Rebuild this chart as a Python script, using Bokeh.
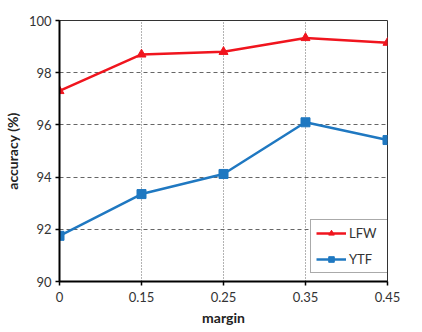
from bokeh.plotting import figure
from bokeh.models import Range1d, FixedTicker, Legend, LegendItem
from bokeh.embed import file_html
from bokeh.resources import INLINE

margins = ["0", "0.15", "0.25", "0.35", "0.45"]
lfw = [97.3, 98.7, 98.8, 99.33, 99.15]
ytf = [91.75, 93.35, 94.12, 96.1, 95.42]
y_ticks = [90, 92, 94, 96, 98, 100]

xs = list(range(len(margins)))
FONT = "Lato"

p = figure(width=420, height=330, output_backend="svg", toolbar_location=None,
           x_range=Range1d(0, len(margins) - 1), y_range=Range1d(90, 100),
           min_border_left=58, min_border_right=33, min_border_top=20, min_border_bottom=49)

p.outline_line_color = "#333333"
p.outline_line_width = 1

p.xaxis.ticker = FixedTicker(ticks=xs)
p.xaxis.major_label_overrides = {i: m for i, m in enumerate(margins)}
p.yaxis.ticker = FixedTicker(ticks=y_ticks)

for ax in (p.xaxis[0], p.yaxis[0]):
    ax.axis_line_color = "black"
    ax.axis_line_width = 2
    ax.major_tick_line_color = "black"
    ax.major_tick_line_width = 1.5
    ax.major_tick_out = 4
    ax.major_tick_in = 0
    ax.minor_tick_line_color = None
    ax.major_label_text_font = FONT
    ax.major_label_text_font_size = "13px"
    ax.major_label_text_color = "#333333"
    ax.axis_label_text_font = FONT
    ax.axis_label_text_font_size = "14px"
    ax.axis_label_text_font_style = "bold"
    ax.axis_label_text_color = "#222222"

p.xaxis.axis_label = "margin"
p.yaxis.axis_label = "accuracy (%)"
p.xaxis.major_label_standoff = 6
p.xaxis.axis_label_standoff = 4
p.yaxis.major_label_standoff = 4
p.yaxis.axis_label_standoff = 5

p.xgrid.ticker = FixedTicker(ticks=xs[1:-1])
p.xgrid.grid_line_color = "#666666"
p.xgrid.grid_line_dash = "1 2"
p.xgrid.grid_line_width = 1
p.ygrid.ticker = FixedTicker(ticks=y_ticks[1:-1])
p.ygrid.grid_line_color = "#666666"
p.ygrid.grid_line_dash = "4 3"
p.ygrid.grid_line_width = 1

red = "#F0151E"
blue = "#1F78C1"

l1 = p.line(xs, lfw, line_color=red, line_width=2.5)
m1 = p.scatter(xs, lfw, marker="triangle", size=9, fill_color=red, line_color=red)
l2 = p.line(xs, ytf, line_color=blue, line_width=2.5)
m2 = p.scatter(xs, ytf, marker="square", size=9, fill_color=blue, line_color=blue)

legend = Legend(items=[LegendItem(label="LFW", renderers=[l1, m1]),
                       LegendItem(label="YTF", renderers=[l2, m2])],
                location=(251, 8))
legend.border_line_color = "#555555"
legend.border_line_width = 1
legend.background_fill_color = "white"
legend.background_fill_alpha = 1
legend.label_text_font = FONT
legend.label_text_font_size = "13px"
legend.label_text_color = "#333333"
legend.glyph_width = 30
legend.glyph_height = 14
legend.label_standoff = 3
legend.label_width = 33
legend.spacing = 10
legend.padding = 5
legend.margin = 0
p.add_layout(legend, "center")

open("out.html", "w").write(file_html(p, INLINE))
